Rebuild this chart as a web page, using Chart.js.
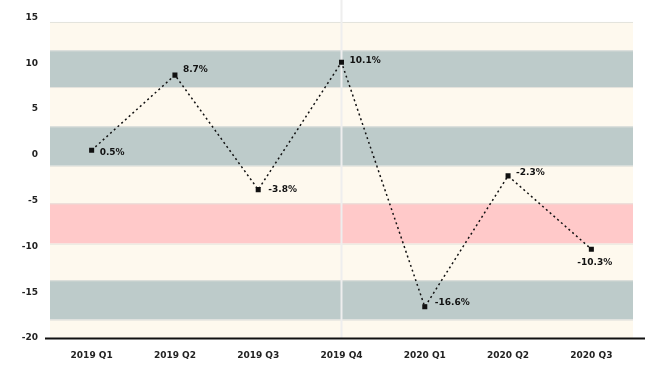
<!DOCTYPE html>
<html>
<head>
<meta charset="utf-8">
<script src="https://cdn.jsdelivr.net/npm/chart.js@4/dist/chart.umd.min.js"></script>
<style>
  html, body { margin: 0; padding: 0; background: #ffffff; }
  #wrap { width: 645px; height: 387px; }
</style>
</head>
<body>
<div id="wrap"><canvas id="lineChart" width="645" height="387"></canvas></div>
<script>
// categories and values
const periods = ['2019 Q1', '2019 Q2', '2019 Q3', '2019 Q4', '2020 Q1', '2020 Q2', '2020 Q3'];
const changePct = [0.5, 8.7, -3.8, 10.1, -16.6, -2.3, -10.3];
const yTicks = [15, 10, 5, 0, -5, -10, -15, -20];

// background bands (value from, value to, colour)
const bandFrom = [14.5, 11.4, 7.4, 3.1, -1.2, -5.3, -9.7, -13.7, -18.0];
const bandTo   = [11.4, 7.4, 3.1, -1.2, -5.3, -9.7, -13.7, -18.0, -20];
const bandKind = ['cream', 'grey', 'cream', 'grey', 'cream', 'pink', 'cream', 'grey', 'cream'];
const markerIndex = 3;

const bandColours = { cream: '#fef9ee', grey: '#bdcbca', pink: '#ffc9c9' };

const bands = {
  id: 'bands',
  beforeDatasetsDraw(chart) {
    const { ctx, chartArea: { left, right }, scales: { y, x } } = chart;
    ctx.save();
    bandFrom.forEach((v, i) => {
      const top = y.getPixelForValue(v);
      const bottom = y.getPixelForValue(bandTo[i]);
      ctx.fillStyle = bandColours[bandKind[i]];
      ctx.fillRect(left, top, right - left, bottom - top);
      // thin light separator
      ctx.fillStyle = 'rgba(225,225,220,0.9)';
      ctx.fillRect(left, top, right - left, 1);
    });
    // light vertical marker line
    const mx = x.getPixelForValue(markerIndex);
    ctx.fillStyle = '#eeeeee';
    ctx.fillRect(mx - 1, 0, 2, y.getPixelForValue(-20));
    ctx.restore();
  },
  afterDatasetsDraw(chart) {
    const { ctx, chartArea: { left, bottom }, width } = chart;
    ctx.save();
    ctx.strokeStyle = '#111';
    ctx.lineWidth = 2;
    ctx.beginPath();
    ctx.moveTo(left - 5, bottom + 0.5);
    ctx.lineTo(width, bottom + 0.5);
    ctx.stroke();
    ctx.restore();
  }
};

// labels next to each point
const labelOffsets = [[8, 2], [8, -5], [10, 0], [8, -2], [10, -4], [8, -3], [-14, 14]];
const pointLabels = {
  id: 'pointLabels',
  afterDatasetsDraw(chart) {
    const { ctx } = chart;
    const meta = chart.getDatasetMeta(0);
    ctx.save();
    ctx.font = 'bold 9px "DejaVu Sans"';
    ctx.fillStyle = '#111';
    ctx.textAlign = 'left';
    ctx.textBaseline = 'middle';
    meta.data.forEach((pt, i) => {
      const [dx, dy] = labelOffsets[i];
      ctx.fillText(changePct[i].toFixed(1) + '%', pt.x + dx, pt.y + dy);
    });
    ctx.restore();
  }
};

new Chart(document.getElementById('lineChart'), {
  type: 'line',
  data: {
    labels: periods,
    datasets: [{
      data: changePct,
      borderColor: '#111',
      borderWidth: 1.5,
      borderDash: [2, 3],
      pointStyle: 'rect',
      pointRadius: 2.5,
      pointBackgroundColor: '#111',
      pointBorderColor: '#111',
      tension: 0,
      fill: false
    }]
  },
  options: {
    responsive: false,
    animation: false,
    layout: { padding: { top: 10, right: 12, left: 0, bottom: 0 } },
    plugins: { legend: { display: false }, tooltip: { enabled: false } },
    scales: {
      x: {
        offset: true,
        grid: { display: false, drawTicks: false },
        border: { display: false },
        ticks: {
          padding: 12,
          color: '#222',
          font: { family: 'DejaVu Sans', size: 9, weight: 'bold' }
        },
        afterFit(s) { s.height = 49; }
      },
      y: {
        min: -20,
        max: 15,
        afterBuildTicks(s) { s.ticks = yTicks.map(v => ({ value: v })); },
        grid: { display: false, drawTicks: false },
        border: { display: false },
        ticks: {
          padding: 12,
          color: '#222',
          font: { family: 'DejaVu Sans', size: 9, weight: 'bold' }
        },
        afterFit(s) { s.width = 50; }
      }
    }
  },
  plugins: [bands, pointLabels]
});
</script>
</body>
</html>
